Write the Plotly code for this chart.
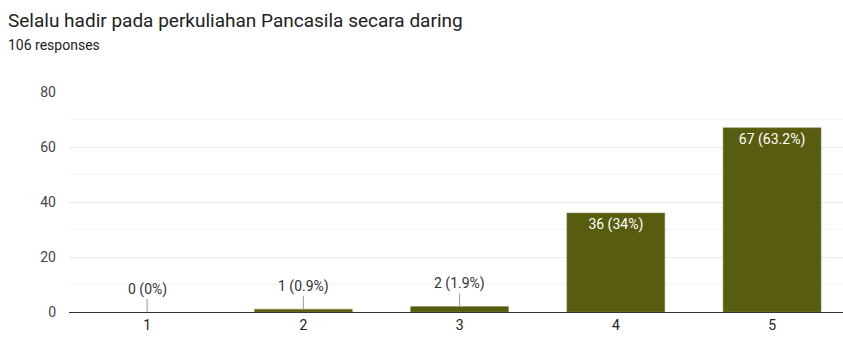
import plotly.graph_objects as go

categories = ["1", "2", "3", "4", "5"]
counts = [0, 1, 2, 36, 67]
total = 106
y_ticks = [0, 20, 40, 60, 80]

labels = []
for c in counts:
    pct = c / total * 100
    p = f"{pct:.1f}".rstrip("0").rstrip(".")
    labels.append(f"{c} ({p}%)")

inside = [l if c >= 10 else "" for l, c in zip(labels, counts)]
edge_w = [0 if c == 0 else 0.5 for c in counts]

fig = go.Figure()
fig.add_trace(go.Bar(
    x=categories, y=counts,
    marker=dict(color="#585c0e", line=dict(color="#8a8d55", width=edge_w)),
    text=inside, textposition="inside", insidetextanchor="end",
    textfont=dict(color="white", size=14, family="Roboto"),
    textangle=0, cliponaxis=False, hoverinfo="skip",
))

for i, (c, l) in enumerate(zip(counts, labels)):
    if c < 10:
        fig.add_annotation(
            x=i, y=c, text=l, showarrow=True, arrowhead=0, arrowwidth=1,
            arrowcolor="#999999", ax=0, ay=-23, standoff=0,
            font=dict(size=14, color="#333333", family="Roboto"),
        )

fig.add_annotation(
    x=0, y=1, xref="paper", yref="paper", xanchor="left", yanchor="top",
    text="Selalu hadir pada perkuliahan Pancasila secara daring", showarrow=False,
    font=dict(size=19, color="#222222", family="Roboto"),
    xshift=-69 + 6, yshift=92 - 7,
)
fig.add_annotation(
    x=0, y=1, xref="paper", yref="paper", xanchor="left", yanchor="top",
    text="106 responses", showarrow=False,
    font=dict(size=14, color="#222222", family="Roboto"),
    xshift=-69 + 6, yshift=92 - 35,
)

fig.update_layout(
    width=843, height=338,
    margin=dict(l=69, r=0, t=92, b=26),
    paper_bgcolor="white", plot_bgcolor="white",
    bargap=0.373, showlegend=False,
    font=dict(family="Roboto", color="#444444", size=14),
    xaxis=dict(type="category", range=[-0.5, 4.454], showgrid=False, showline=True,
               linecolor="#333333", linewidth=1,
               ticks="", tickfont=dict(size=14, color="#222222")),
    yaxis=dict(range=[0, 80], tickvals=y_ticks, showgrid=True, gridcolor="#ebebeb",
               zeroline=False, showline=False, ticks="", ticklabelstandoff=12,
               tickfont=dict(size=14, color="#444444"),
               minor=dict(dtick=10, showgrid=True, gridcolor="#f4f4f4")),
)

fig.write_html("out.html")
